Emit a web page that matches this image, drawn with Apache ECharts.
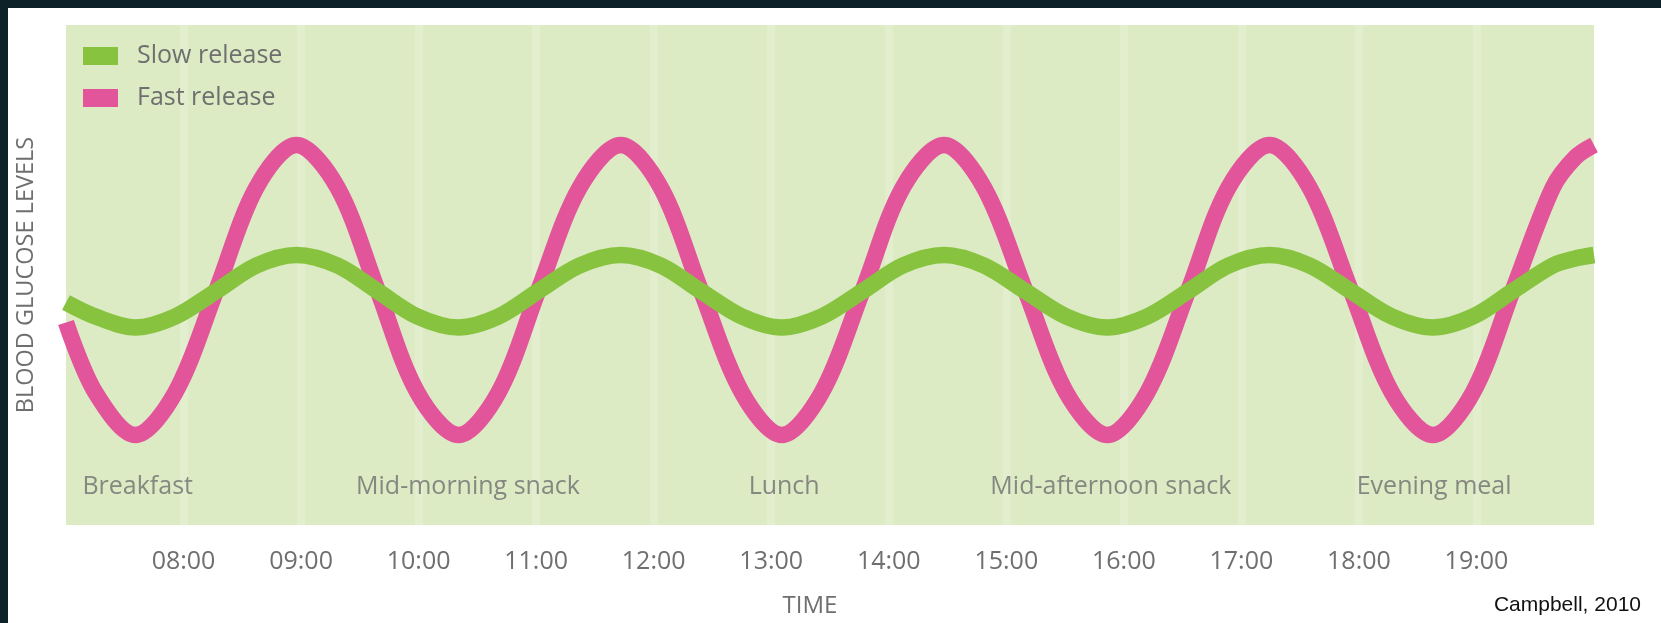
<!DOCTYPE html>
<html>
<head>
<meta charset="utf-8">
<script src="https://cdn.jsdelivr.net/npm/echarts@6/dist/echarts.min.js"></script>
<style>
html,body{margin:0;padding:0;background:#ffffff;}
#chart{width:1661px;height:623px;}
</style>
</head>
<body>
<div id="chart"></div>
<script>
// Hours of the day (decimal) at which values were read
const times = [7.0, 7.25, 7.59, 7.93, 8.28, 8.62, 8.96, 9.31, 9.65, 9.99, 10.34, 10.68, 11.02, 11.37, 11.72,
  12.06, 12.40, 12.75, 13.09, 13.43, 13.78, 14.12, 14.47, 14.81, 15.16, 15.51, 15.86, 16.20, 16.55, 16.89,
  17.24, 17.58, 17.93, 18.28, 18.63, 18.97, 19.31, 19.65, 19.84, 20.0];
// Blood glucose level (relative 0-100)
const fastRelease = [40.5, 26.5, 18, 26.5, 47, 67.5, 76, 67.5, 47, 26.5, 18, 26.5, 47, 67.5, 76,
  67.5, 47, 26.5, 18, 26.5, 47, 67.5, 76, 67.5, 47, 26.5, 18, 26.5, 47, 67.5,
  76, 67.5, 47, 26.5, 18, 26.5, 47, 67.5, 73.5, 76];
const slowRelease = [44.5, 41.7, 39.5, 41.7, 46.8, 51.9, 54, 51.9, 46.8, 41.7, 39.5, 41.7, 46.8, 51.9, 54,
  51.9, 46.8, 41.7, 39.5, 41.7, 46.8, 51.9, 54, 51.9, 46.8, 41.7, 39.5, 41.7, 46.8, 51.9,
  54, 51.9, 46.8, 41.7, 39.5, 41.7, 46.8, 51.9, 53.3, 54];
const mealNames = ['Breakfast', 'Mid-morning snack', 'Lunch', 'Mid-afternoon snack', 'Evening meal'];
const mealTimes = [7.61, 10.42, 13.11, 15.89, 18.64];
const tickHours = [8, 9, 10, 11, 12, 13, 14, 15, 16, 17, 18, 19];
const tickLabels = ['08:00', '09:00', '10:00', '11:00', '12:00', '13:00', '14:00', '15:00', '16:00', '17:00', '18:00', '19:00'];

const MEAL_LABEL_LEVEL = 7.6;
const FONT = '"Open Sans", sans-serif';
const GREY = '#6f6f6f';

const chart = echarts.init(document.getElementById('chart'), null, {renderer: 'canvas'});
chart.setOption({
  backgroundColor: '#ffffff',
  animation: false,
  graphic: [
    {type: 'rect', left: 0, top: 0, shape: {width: 1661, height: 8}, style: {fill: '#0c2128'}, z: 100},
    {type: 'rect', left: 0, top: 0, shape: {width: 8, height: 623}, style: {fill: '#0c2128'}, z: 100}
  ],
  title: {
    text: 'Campbell, 2010',
    right: 20, top: 595, padding: 0,
    textStyle: {fontFamily: '"Liberation Sans", Arial, sans-serif', fontSize: 21, fontWeight: 'normal', color: '#111111'}
  },
  legend: {
    data: ['Slow release', 'Fast release'],
    orient: 'vertical',
    left: 83, top: 43.5, padding: 0,
    icon: 'rect',
    itemWidth: 35, itemHeight: 18, itemGap: 17,
    textStyle: {fontFamily: FONT, fontSize: 25, color: GREY, padding: [0, 0, 0, 14]}
  },
  grid: {
    left: 66, right: 67, top: 25, bottom: 93,
    show: true, backgroundColor: '#dcebc4', borderWidth: 0
  },
  xAxis: {
    type: 'value', min: 7, max: 20, interval: 1,
    name: 'TIME', nameLocation: 'middle', nameGap: 69,
    nameTextStyle: {fontFamily: FONT, fontSize: 24, color: GREY, padding: [0, 40, 0, 0]},
    axisLine: {show: false}, axisTick: {show: false},
    axisLabel: {
      margin: 24, fontFamily: FONT, fontSize: 25, color: GREY,
      showMinLabel: false, showMaxLabel: false,
      formatter: function (v) { const i = tickHours.indexOf(v); return i >= 0 ? tickLabels[i] : ''; }
    },
    splitLine: {show: true, showMinLine: false, showMaxLine: false, lineStyle: {color: 'rgba(255,255,255,0.18)', width: 8}}
  },
  yAxis: {
    type: 'value', min: 0, max: 100,
    name: 'BLOOD GLUCOSE LEVELS', nameLocation: 'middle', nameGap: 28,
    nameTextStyle: {fontFamily: FONT, fontSize: 23.5, color: GREY},
    axisLine: {show: false}, axisTick: {show: false}, axisLabel: {show: false}, splitLine: {show: false}
  },
  series: [
    {
      name: 'Fast release', type: 'line', smooth: 0.33, showSymbol: false, symbol: 'none',
      color: '#e2559b',
      lineStyle: {width: 16.5, color: '#e2559b'},
      data: times.map((t, i) => [t, fastRelease[i]]), z: 2
    },
    {
      name: 'Slow release', type: 'line', smooth: 0.33, showSymbol: false, symbol: 'none',
      color: '#87c33f',
      lineStyle: {width: 16.5, color: '#87c33f'},
      data: times.map((t, i) => [t, slowRelease[i]]), z: 3
    },
    {
      name: 'meals', type: 'scatter', silent: true, symbolSize: 1,
      itemStyle: {color: 'rgba(0,0,0,0)'},
      label: {show: true, position: 'inside', formatter: p => p.name, fontFamily: FONT, fontSize: 25, color: GREY},
      data: mealTimes.map((t, i) => ({name: mealNames[i], value: [t, MEAL_LABEL_LEVEL]}))
    }
  ]
});
</script>
</body>
</html>
